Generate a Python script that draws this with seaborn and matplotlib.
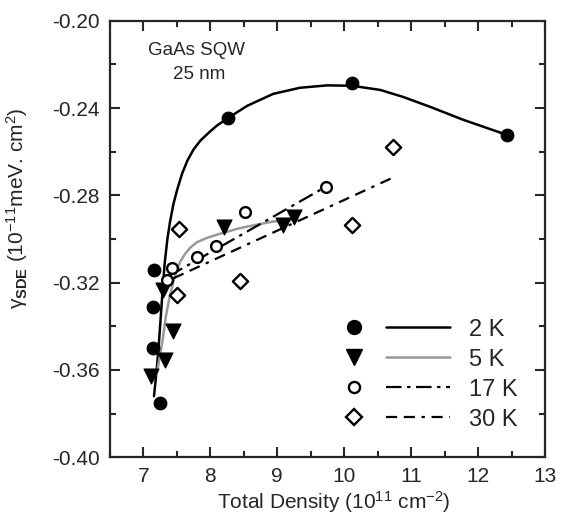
import pandas as pd
import matplotlib.pyplot as plt
import seaborn as sns
from matplotlib.lines import Line2D
from matplotlib.legend_handler import HandlerTuple
from matplotlib.ticker import MultipleLocator

# pontos medidos: densidade total (10^11 cm^-2) x gamma_SDE
dens_2k = [7.16, 7.14, 7.15, 7.25, 8.27, 10.12, 12.43]
gama_2k = [-0.314, -0.331, -0.350, -0.375, -0.2445, -0.2284, -0.2523]
dens_5k = [7.11, 7.30, 7.32, 7.45, 8.20, 9.09, 9.25]
gama_5k = [-0.363, -0.3234, -0.3555, -0.342, -0.2945, -0.2936, -0.290]
dens_17k = [7.35, 7.43, 7.80, 8.09, 8.52, 9.73]
gama_17k = [-0.3188, -0.3134, -0.3084, -0.3032, -0.2875, -0.276]
dens_30k = [7.53, 7.51, 8.44, 10.11, 10.73]
gama_30k = [-0.2955, -0.3257, -0.3191, -0.2936, -0.2577]

# curvas de ajuste
ajuste_2k_x = [7.16, 7.20, 7.23, 7.26, 7.29, 7.32, 7.36, 7.40, 7.45, 7.51, 7.58, 7.66,
               7.75, 7.85, 7.97, 8.10, 8.27, 8.55, 8.94, 9.34, 9.75, 10.12, 10.54,
               10.88, 11.28, 11.78, 12.43]
ajuste_2k_y = [-0.372, -0.360, -0.349, -0.336, -0.323, -0.311, -0.300, -0.292, -0.284,
               -0.277, -0.270, -0.264, -0.259, -0.255, -0.2515, -0.248, -0.2445, -0.239,
               -0.2335, -0.2307, -0.2296, -0.2298, -0.2317, -0.2349, -0.2394, -0.2454,
               -0.2523]
ajuste_5k_x = [7.20, 7.24, 7.29, 7.34, 7.39, 7.45, 7.50, 7.55, 7.62, 7.70, 7.80, 7.95,
               8.10, 8.25, 8.42, 8.60, 8.94, 9.27]
ajuste_5k_y = [-0.362, -0.355, -0.346, -0.335, -0.327, -0.3195, -0.3145, -0.3105,
               -0.307, -0.304, -0.3015, -0.2995, -0.298, -0.2967, -0.2952, -0.294,
               -0.292, -0.2912]
ajuste_17k_x = [7.38, 9.73]
ajuste_17k_y = [-0.317, -0.276]
ajuste_30k_x = [7.45, 10.74]
ajuste_30k_y = [-0.318, -0.2717]

rotulos = ["2 K", "5 K", "17 K", "30 K"]

sns.set_style("ticks")
plt.rcParams['font.family'] = ['Liberation Sans', 'DejaVu Sans']
plt.rcParams['mathtext.fontset'] = 'custom'
plt.rcParams['mathtext.rm'] = 'Liberation Sans'
plt.rcParams['mathtext.it'] = 'Liberation Sans:italic'
plt.rcParams['mathtext.bf'] = 'Liberation Sans:bold'

fig = plt.figure(figsize=(5.66, 5.19), dpi=100)
ax = fig.add_axes([0.194, 0.119, 0.769, 0.841])

estilo_17k = (0, (7, 2.5, 1.5, 2.5))
estilo_30k = (0, (5, 3, 5, 3, 1.5, 3))

sns.lineplot(x=ajuste_2k_x, y=ajuste_2k_y, sort=False, estimator=None, color='black', lw=1.8, ax=ax)
sns.lineplot(x=ajuste_5k_x, y=ajuste_5k_y, sort=False, estimator=None, color='#999999', lw=1.8, ax=ax)
sns.lineplot(x=ajuste_17k_x, y=ajuste_17k_y, sort=False, estimator=None, color='black', lw=1.6,
             linestyle=estilo_17k, ax=ax)
sns.lineplot(x=ajuste_30k_x, y=ajuste_30k_y, sort=False, estimator=None, color='black', lw=1.6,
             linestyle=estilo_30k, ax=ax)

sns.scatterplot(x=dens_2k, y=gama_2k, marker='o', s=85, color='black', edgecolor='black', ax=ax, zorder=5)
sns.scatterplot(x=dens_5k, y=gama_5k, marker='v', s=115, color='black', edgecolor='black', ax=ax, zorder=5)
sns.scatterplot(x=dens_17k, y=gama_17k, marker='o', s=60, facecolor='white', edgecolor='black',
                linewidth=1.7, ax=ax, zorder=5)
sns.scatterplot(x=dens_30k, y=gama_30k, marker='D', s=60, facecolor='white', edgecolor='black',
                linewidth=1.7, ax=ax, zorder=5)

ax.set_xlim(6.5, 13)
ax.set_ylim(-0.40, -0.20)
ax.xaxis.set_major_locator(MultipleLocator(1))
ax.xaxis.set_minor_locator(MultipleLocator(0.5))
ax.yaxis.set_major_locator(MultipleLocator(0.04))
ax.yaxis.set_minor_locator(MultipleLocator(0.02))
ax.yaxis.set_major_formatter(plt.FuncFormatter(lambda v, p: f"{v:.2f}"))
ax.tick_params(which='both', direction='in', top=True, right=True, width=1.5, labelsize=15)
ax.tick_params(which='major', length=7, pad=7)
ax.tick_params(which='minor', length=4)
for s in ax.spines.values():
    s.set_linewidth(1.6)

ax.set_xlabel(r'Total Density (10$^{11}$ cm$^{-2}$)', fontsize=15)
ax.set_ylabel(r'γ$_{\mathbf{SDE}}$ (10$^{-11}$meV. cm$^{2}$)', fontsize=15)
ax.xaxis.set_label_coords(0.515, -0.074)
ax.yaxis.set_label_coords(-0.184, 0.57)

ax.text(0.20, 0.933, 'GaAs SQW', transform=ax.transAxes, fontsize=13.5, ha='center', va='center')
ax.text(0.205, 0.876, '25 nm', transform=ax.transAxes, fontsize=13.5, ha='center', va='center')

# legenda: marcador + linha lado a lado
marcadores = [
    Line2D([], [], marker='o', ls='none', ms=10, color='black'),
    Line2D([], [], marker='v', ls='none', ms=11, color='black'),
    Line2D([], [], marker='o', ls='none', ms=8, mfc='white', mec='black', mew=1.7),
    Line2D([], [], marker='D', ls='none', ms=8, mfc='white', mec='black', mew=1.7),
]
linhas = [
    Line2D([], [], color='black', lw=1.8),
    Line2D([], [], color='#999999', lw=1.8),
    Line2D([], [], color='black', lw=1.6, ls=estilo_17k),
    Line2D([], [], color='black', lw=1.6, ls=estilo_30k),
]
handles = list(zip(marcadores, linhas))
ax.legend(handles, rotulos, handler_map={tuple: HandlerTuple(ndivide=None, pad=0.0)},
          loc='lower right', bbox_to_anchor=(0.985, 0.012), frameon=False, fontsize=17,
          handlelength=5.4, handletextpad=0.8, labelspacing=0.34)

plt.savefig('out.png', dpi=100)
